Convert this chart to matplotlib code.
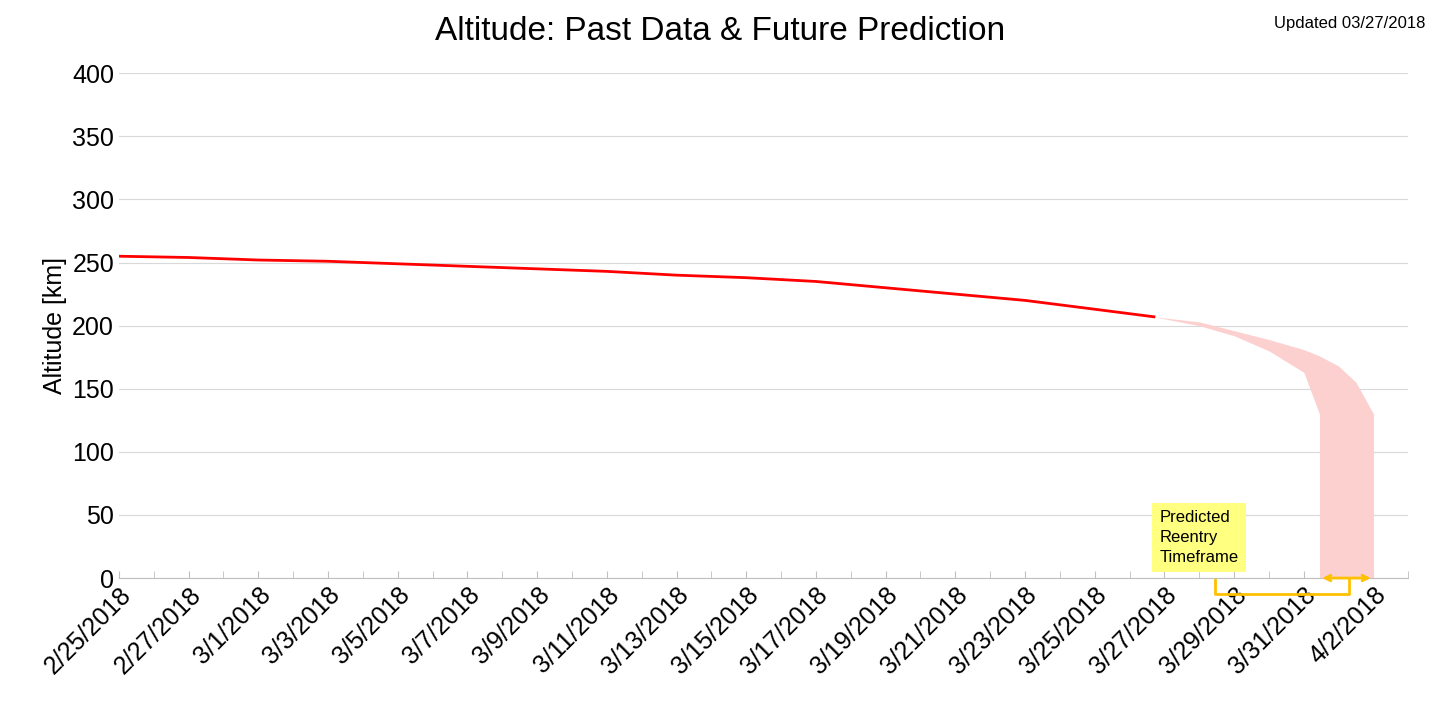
import matplotlib
matplotlib.use("Agg")
import matplotlib.pyplot as plt
import matplotlib.dates as mdates
import numpy as np
import datetime as dt

plt.rcParams['font.family'] = ['Liberation Sans', 'DejaVu Sans']

start = dt.datetime(2018, 2, 25)
past_days = [0, 2, 4, 6, 8, 10, 12, 14, 16, 18, 20, 22, 24, 26, 28, 29.7]
past_alt = [255, 254, 252, 251, 249, 247, 245, 243, 240, 238, 235, 230, 225, 220, 213, 207]
band_days = [29.7, 31, 32, 33, 34, 34.45, 35, 35.5, 36]
band_upper = [207, 203, 196, 189, 181, 176, 168, 155, 130]
band_lower = [207, 200, 192, 180, 163, 130, 0, 0, 0]
tick_labels_days = list(range(0, 37, 2))

def d(x):
    return [start + dt.timedelta(days=float(v)) for v in np.atleast_1d(x)]

fig = plt.figure(figsize=(14.4, 7.11), dpi=100)
ax = fig.add_axes([0.0826, 0.187, 0.8954, 0.71])

lower = np.array(band_lower, float)
upper = np.array(band_upper, float)
bdays2 = band_days[:6] + [34.4501] + band_days[6:]
up2 = list(upper[:6]) + [float(np.interp(34.4501, band_days, upper))] + list(upper[6:])
lo2 = list(lower[:6]) + [0.0] + list(lower[6:])
ax.fill_between(d(bdays2), lo2, up2, color='#fdd0d0', lw=0)
ax.plot(d(past_days), past_alt, color='red', lw=2)

ax.set_ylim(0, 400)
ax.set_xlim(start, start + dt.timedelta(days=37))
ax.set_yticks(range(0, 401, 50))
ax.grid(axis='y', color='#d9d9d9', lw=0.8)
ax.set_axisbelow(True)
ax.set_xticks(d(tick_labels_days))
ax.xaxis.set_major_formatter(plt.FuncFormatter(lambda v, p: f"{mdates.num2date(v).month}/{mdates.num2date(v).day}/{mdates.num2date(v).year}"))
ax.set_xticks(d(range(0, 38)), minor=True)
ax.tick_params(axis='x', which='both', length=5, color='#bfbfbf', direction='in', labelsize=18)
ax.tick_params(axis='y', length=0, labelsize=18)
plt.setp(ax.get_xticklabels(), rotation=45, ha='right', rotation_mode='anchor')
for s in ['top', 'right', 'left']:
    ax.spines[s].set_visible(False)
ax.spines['bottom'].set_color('#bfbfbf')
ax.set_ylabel('Altitude [km]', fontsize=18)

fig.text(0.5, 0.955, 'Altitude: Past Data & Future Prediction', ha='center', va='center', fontsize=24)
fig.text(0.99, 0.967, 'Updated 03/27/2018', ha='right', va='center', fontsize=12)

ax.text(start + dt.timedelta(days=29.85), 32, 'Predicted\nReentry\nTimeframe', fontsize=12,
        va='center', ha='left', linespacing=1.4,
        bbox=dict(boxstyle='square,pad=0.45', fc='#ffff80', ec='none'))
orange = '#ffc000'
ax.plot(d([31.45, 31.45, 35.3, 35.3]), [-1, -13, -13, -1], color=orange, lw=2, clip_on=False)
ax.annotate('', xy=(start + dt.timedelta(days=34.45), 0), xytext=(start + dt.timedelta(days=36), 0),
            arrowprops=dict(arrowstyle='<->', color=orange, lw=2), annotation_clip=False)

fig.savefig('out.png', dpi=100)
